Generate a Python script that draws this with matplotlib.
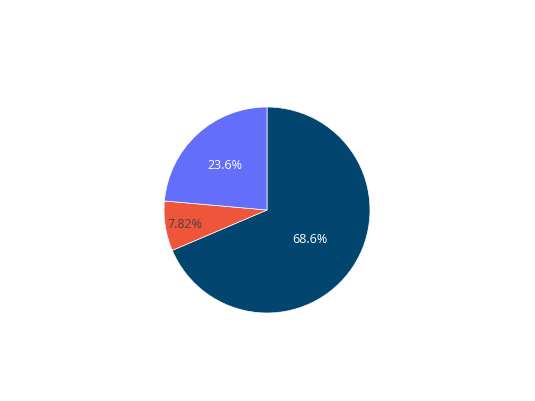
import numpy as np
import matplotlib
matplotlib.use("Agg")
from matplotlib import pyplot as plt

plt.rcParams["font.family"] = ["Open Sans", "DejaVu Sans"]

# slice shares (percent), clockwise from 12 o'clock
labels = ["A", "B", "C"]
values = [68.6, 7.82, 23.6]
colors = ["#02466f", "#ef553b", "#636efa"]
text_colors = ["white", "#444444", "white"]
text_radius = [0.5, 0.81, 0.6]

fig = plt.figure(figsize=(5.35, 4.02), dpi=100)
cx, cy, r = 267, 402 - 211, 103
ax = fig.add_axes([(cx - r) / 535, (cy - r) / 402, 2 * r / 535, 2 * r / 402])

wedges, _ = ax.pie(values, colors=colors, startangle=90, counterclock=False,
                   radius=1, wedgeprops=dict(edgecolor="white", linewidth=0.5))

total = sum(values)
for w, v, tc, tr in zip(wedges, values, text_colors, text_radius):
    mid = np.deg2rad((w.theta1 + w.theta2) / 2)
    pct = v / total * 100
    txt = f"{pct:.3g}%"
    ax.text(tr * np.cos(mid), tr * np.sin(mid), txt, ha="center", va="center",
            color=tc, fontsize=9)

ax.set_xlim(-1, 1)
ax.set_ylim(-1, 1)
ax.set_aspect("equal")
ax.axis("off")

fig.savefig("out.png", dpi=100)
